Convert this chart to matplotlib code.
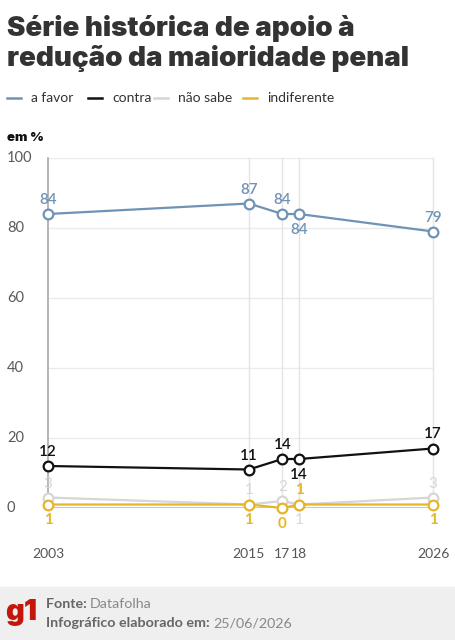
import matplotlib
matplotlib.use("Agg")
import matplotlib.pyplot as plt

years = [2003, 2015, 2017, 2018, 2026]
xlabels = ["2003", "2015", "17", "18", "2026"]
a_favor = [84, 87, 84, 84, 79]
contra = [12, 11, 14, 14, 17]
nao_sabe = [3, 1, 2, 1, 3]
indiferente = [1, 1, 0, 1, 1]
# label placement: 1 = above, -1 = below
pos_favor = [1, 1, 1, -1, 1]
pos_contra = [1, 1, 1, -1, 1]
pos_ns = [1, 1, 1, -1, 1]
pos_ind = [-1, -1, -1, 1, -1]

FONT = "Lato"
plt.rcParams['font.family'] = [FONT, 'DejaVu Sans']

fig = plt.figure(figsize=(4.56, 6.4), dpi=100)
ax = fig.add_axes([48/456, 1-508/640, (433-48)/456, 350/640])
ax.set_xlim(2003, 2026)
ax.set_ylim(0, 100)

for y in [20, 40, 60, 80, 100]:
    ax.axhline(y, color="#ebebeb", lw=1, zorder=0)
for i, x in enumerate(years):
    ax.plot([x, x], [0, 100], color="#a9a9a9" if i == 0 else "#e4e4e4", lw=1.2 if i == 0 else 1, zorder=1, clip_on=False)
ax.axhline(0, color="#bdbdbd", lw=1.2, zorder=1)

series = [
    ("a favor", a_favor, "#6f93b5", pos_favor, "semibold"),
    ("contra", contra, "#111111", pos_contra, "semibold"),
    ("não sabe", nao_sabe, "#d6d6d6", pos_ns, "normal"),
    ("indiferente", indiferente, "#e6b62a", pos_ind, "bold"),
]
order = [2, 3, 1, 0]
for k in order:
    name, vals, col, pos, fw = series[k]
    ax.plot(years, vals, color=col, lw=1.6, marker="o", ms=7, mfc="white", mec=col, mew=1.6,
            zorder=3 + k, clip_on=False)
    for x, v, p in zip(years, vals, pos):
        ax.annotate(str(v), (x, v), xytext=(0, 14 if p > 0 else -16), textcoords="offset pixels",
                    ha="center", va="center", color=col, fontsize=11,
                    fontweight=fw, zorder=10)

for s in ax.spines.values():
    s.set_visible(False)
ax.set_xticks(years)
ax.set_xticklabels(xlabels)
ax.tick_params(axis="x", length=0, pad=29, labelsize=10, labelcolor="#555555")
ax.set_yticks([0, 20, 40, 60, 80, 100])
ax.set_yticklabels([])
ax.tick_params(axis="y", length=0)
for y in [0, 20, 40, 60, 80, 100]:
    fig.text(7/456, 1 - (508 - y * 3.5) / 640, str(y), ha="left", va="center", fontsize=10.5, color="#5a5a5a")

# title
TFONT = ["Inter", "DejaVu Sans"]
fig.text(7/456, 1 - 29/640, "Série histórica de apoio à", fontsize=20, fontweight=900, family=TFONT, color="#333333", va="center")
fig.text(7/456, 1 - 58/640, "redução da maioridade penal", fontsize=20, fontweight=900, family=TFONT, color="#333333", va="center")

# legend
ly = 1 - 98/640
items = [("a favor", "#6f93b5"), ("contra", "#111111"), ("não sabe", "#d6d6d6"), ("indiferente", "#e6b62a")]
xs = [7, 88, 154, 243]
for (name, col), x0 in zip(items, xs):
    fig.add_artist(plt.Line2D([x0/456, (x0+14)/456], [ly, ly], color=col, lw=1.8))
    fig.text((x0+24)/456, ly, name, fontsize=10, color="#333333", va="center")

fig.text(7/456, 1 - 138/640, "em %", fontsize=9.5, fontweight=900, family=TFONT, color="#111111", va="center")

# footer
fig.add_artist(plt.Rectangle((0, 0), 1, 53/640, color="#efefef", transform=fig.transFigure, zorder=0))
fig.text(5/456, 1 - 613/640, "g1", fontsize=21, fontweight=900, family=TFONT, color="#c4170c", va="center")
t1 = fig.text(46/456, 1 - 604/640, "Fonte: ", fontsize=10.3, fontweight="bold", color="#666666", va="center")
fig.canvas.draw()
r = fig.canvas.get_renderer()
bb = t1.get_window_extent(r)
fig.text(bb.x1/456, 1 - 604/640, "Datafolha", fontsize=10.3, color="#888888", va="center")
t2 = fig.text(46/456, 1 - 623/640, "Infográfico elaborado em: ", fontsize=10.3, fontweight="bold", color="#666666", va="center")
bb2 = t2.get_window_extent(r)
fig.text(bb2.x1/456, 1 - 623/640, "25/06/2026", fontsize=10.3, color="#888888", va="center")

fig.savefig("out.png", dpi=100)
